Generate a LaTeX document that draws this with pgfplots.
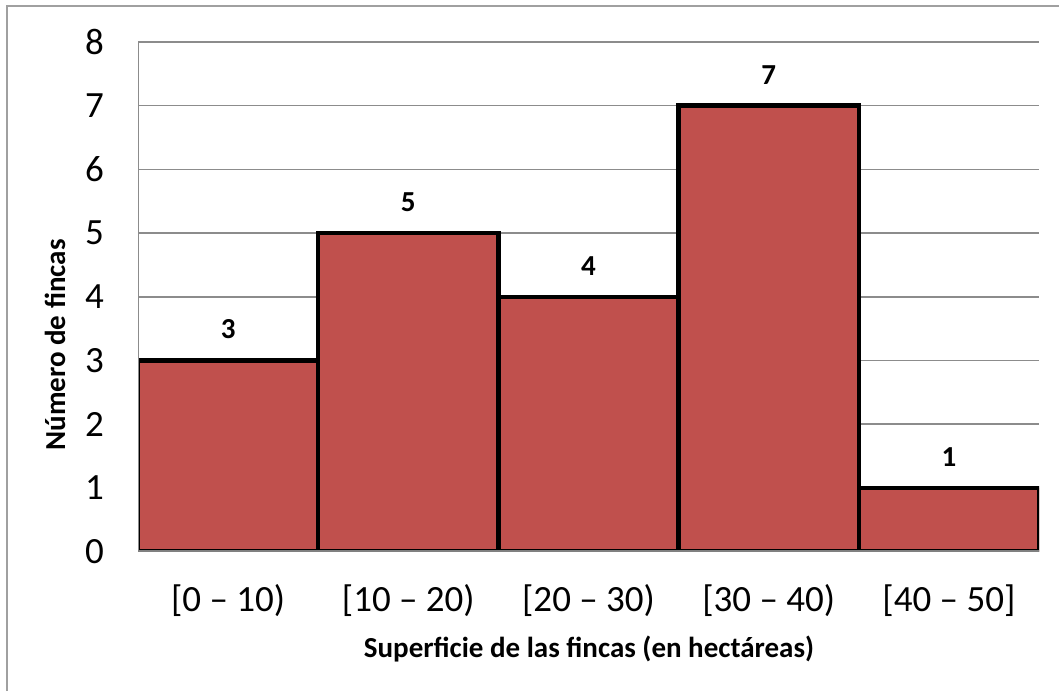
\documentclass[border=0pt]{standalone}
\usepackage{fontspec}
\setmainfont{Carlito}
\usepackage{pgfplots}
\pgfplotsset{compat=1.18}
\definecolor{barred}{HTML}{C0504D}
\definecolor{gridgray}{HTML}{8C8C8C}
\definecolor{bordergray}{HTML}{A0A0A0}
\begin{document}
\begin{tikzpicture}
\path[use as bounding box] (0,0) rectangle (1059pt,-691pt);
\draw[bordergray, line width=2pt] (7pt,-691pt) -- (7pt,-6pt) -- (1059pt,-6pt);
\begin{axis}[
  at={(138pt,-551.5pt)}, anchor=south west,
  scale only axis, width=901pt, height=509.5pt,
  xmin=0, xmax=5, ymin=0, ymax=8,
  axis line style={draw=none},
  ytick={0,...,8},
  ymajorgrids, grid style={gridgray, line width=1.5pt},
  major tick length=0pt,
  xtick={0.5,1.5,2.5,3.5,4.5},
  xticklabels={{[0 – 10)},{[10 – 20)},{[20 – 30)},{[30 – 40)},{[40 – 50]}},
  tick label style={font=\fontsize{37}{44}\selectfont},
  yticklabel style={anchor=east, inner sep=0pt, xshift=-34pt},
  xticklabel style={anchor=north, inner sep=0pt, yshift=-33pt},
  /pgf/number format/assume math mode=true,
  nodes near coords,
  every node near coord/.append style={font=\bfseries\fontsize{29}{35}\selectfont, inner sep=0pt, anchor=south, yshift=19pt},
]
\addplot[ybar, bar width=1, bar shift=0, fill=barred, draw=black, line width=4.5pt]
  coordinates {(0.5,3)(1.5,5)(2.5,4)(3.5,7)(4.5,1)};
\draw[gridgray, line width=1.5pt] (rel axis cs:0,0) -- (rel axis cs:0,1);
\draw[gray, line width=3pt] (rel axis cs:0,0) -- (rel axis cs:1,0);
\end{axis}
\node[font=\bfseries\fontsize{29}{35}\selectfont, anchor=base] at (589pt,-657pt) {Superficie de las fincas (en hectáreas)};
\node[font=\bfseries\fontsize{29}{35}\selectfont, rotate=90, anchor=base] at (65pt,-345pt) {Número de fincas};
\end{tikzpicture}
\end{document}
